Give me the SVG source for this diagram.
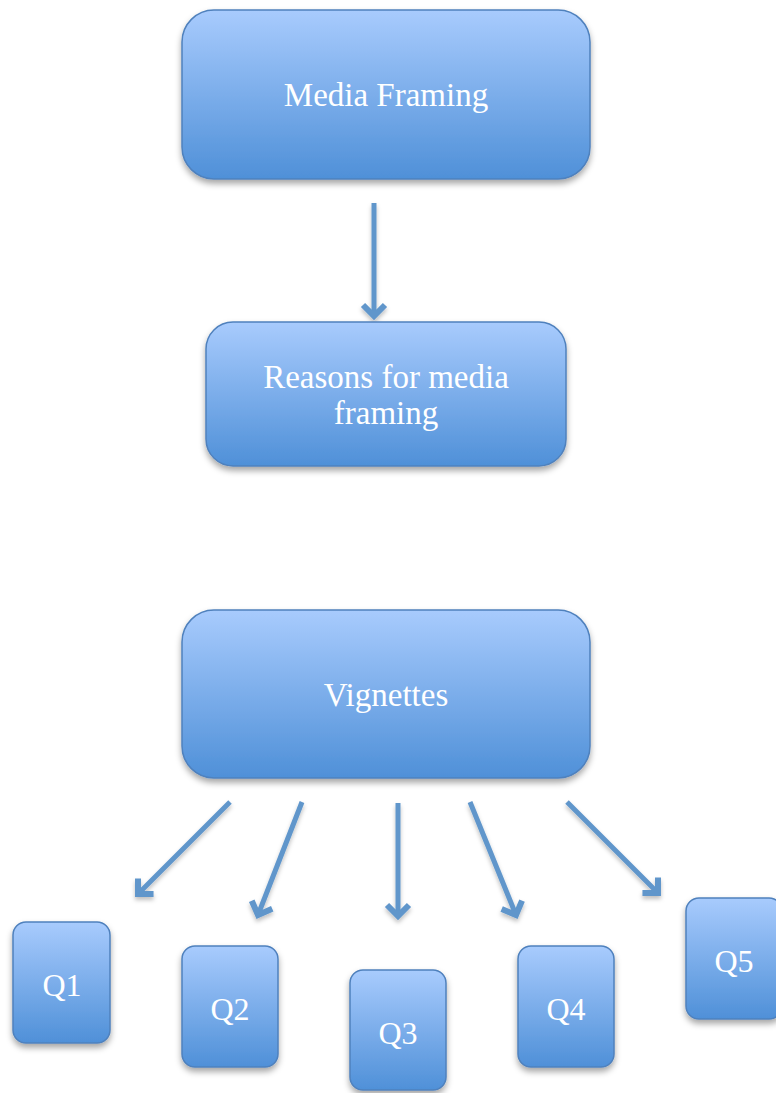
<svg xmlns="http://www.w3.org/2000/svg" width="776" height="1093" viewBox="0 0 776 1093">
<defs>
<linearGradient id="g" x1="0" y1="0" x2="0" y2="1">
<stop offset="0" stop-color="#a8cbfd"/>
<stop offset="1" stop-color="#4f90d8"/>
</linearGradient>
<filter id="sh" x="-10%" y="-10%" width="120%" height="130%">
<feDropShadow dx="0" dy="4" stdDeviation="3" flood-color="#000" flood-opacity="0.35"/>
</filter>
<filter id="lsh" x="-20%" y="-20%" width="140%" height="140%">
<feDropShadow dx="0" dy="3" stdDeviation="2" flood-color="#000" flood-opacity="0.25"/>
</filter>
<marker id="ah" markerUnits="userSpaceOnUse" markerWidth="30" markerHeight="30" viewBox="-15 -15 30 30" refX="0" refY="0" orient="auto">
<path d="M-11,-11 L0,0 L-11,11" fill="none" stroke="#6096cb" stroke-width="6" stroke-linecap="butt" stroke-linejoin="miter"/>
</marker>
<style>
.box{fill:url(#g);stroke:#4f81bd;stroke-width:1.5;filter:url(#sh)}
.t{font-family:"Liberation Serif","Times New Roman",serif;fill:#fff;text-anchor:middle}
.big{font-size:33px}
.q{font-size:32px}
.c{fill:none;stroke:#6096cb;stroke-width:5;marker-end:url(#ah)}
#connectors{filter:url(#lsh)}
</style>
</defs>
<g id="connectors">
<line class="c" x1="374" y1="203" x2="374" y2="316"/>
<line class="c" x1="230" y1="802" x2="138" y2="894"/>
<line class="c" x1="302" y1="802" x2="258" y2="915"/>
<line class="c" x1="398" y1="803" x2="398" y2="916"/>
<line class="c" x1="470" y1="802" x2="516" y2="915"/>
<line class="c" x1="567" y1="802" x2="658" y2="893"/>
</g>
<g id="media-framing">
<rect class="box" x="182" y="10" width="408" height="169" rx="32"/>
<text class="t big" x="386" y="106">Media Framing</text>
</g>
<g id="reasons">
<rect class="box" x="206" y="322" width="360" height="144" rx="27"/>
<text class="t big" x="386" y="388">Reasons for media</text>
<text class="t big" x="386" y="424">framing</text>
</g>
<g id="vignettes">
<rect class="box" x="182" y="610" width="408" height="168" rx="32"/>
<text class="t big" x="386" y="706">Vignettes</text>
</g>
<g id="q1">
<rect class="box" x="13" y="922" width="97" height="121" rx="13"/>
<text class="t q" x="62" y="996">Q1</text>
</g>
<g id="q2">
<rect class="box" x="182" y="946" width="96" height="121" rx="13"/>
<text class="t q" x="230" y="1020">Q2</text>
</g>
<g id="q3">
<rect class="box" x="350" y="970" width="96" height="120" rx="13"/>
<text class="t q" x="398" y="1044">Q3</text>
</g>
<g id="q4">
<rect class="box" x="518" y="946" width="96" height="121" rx="13"/>
<text class="t q" x="566" y="1020">Q4</text>
</g>
<g id="q5">
<rect class="box" x="686" y="898" width="96" height="121" rx="13"/>
<text class="t q" x="734" y="972">Q5</text>
</g>
</svg>
